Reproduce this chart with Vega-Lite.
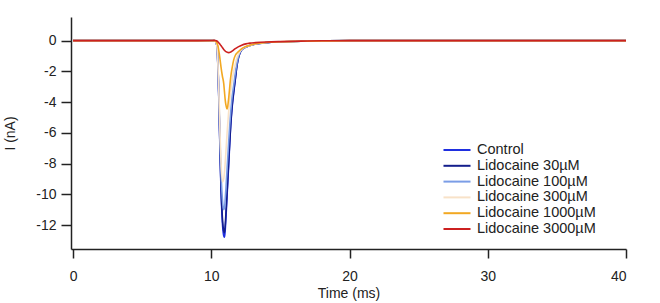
{
  "$schema": "https://vega.github.io/schema/vega-lite/v6.json",
  "width": 555,
  "height": 232,
  "autosize": {"type": "none"},
  "padding": {"left": 71, "top": 17, "right": 34, "bottom": 54},
  "background": "white",
  "config": {
    "view": {"stroke": null},
    "font": "Liberation Sans",
    "axis": {"domainColor": "#222", "tickColor": "#222", "labelColor": "#222", "titleColor": "#222", "labelFontSize": 14, "titleFontSize": 14, "titleFontWeight": "normal", "grid": false, "domainWidth": 1.5, "tickWidth": 1.5}
  },
  "data": {
    "values": [
      {"t": 0, "Control": 0, "Lidocaine 30µM": 0, "Lidocaine 100µM": 0, "Lidocaine 300µM": 0, "Lidocaine 1000µM": 0, "Lidocaine 3000µM": 0},
      {"t": 5, "Control": 0, "Lidocaine 30µM": 0, "Lidocaine 100µM": 0, "Lidocaine 300µM": 0, "Lidocaine 1000µM": 0, "Lidocaine 3000µM": 0},
      {"t": 9, "Control": 0, "Lidocaine 30µM": 0, "Lidocaine 100µM": 0, "Lidocaine 300µM": 0, "Lidocaine 1000µM": 0, "Lidocaine 3000µM": 0},
      {"t": 10, "Control": 0, "Lidocaine 30µM": 0, "Lidocaine 100µM": 0, "Lidocaine 300µM": 0, "Lidocaine 1000µM": 0, "Lidocaine 3000µM": 0.01},
      {"t": 10.2, "Control": 0, "Lidocaine 30µM": 0, "Lidocaine 100µM": 0, "Lidocaine 300µM": 0, "Lidocaine 1000µM": 0, "Lidocaine 3000µM": 0.02},
      {"t": 10.3, "Control": -0.05, "Lidocaine 30µM": -0.05, "Lidocaine 100µM": -0.05, "Lidocaine 300µM": -0.05, "Lidocaine 1000µM": -0.03, "Lidocaine 3000µM": 0.01},
      {"t": 10.4, "Control": -0.3, "Lidocaine 30µM": -0.3, "Lidocaine 100µM": -0.3, "Lidocaine 300µM": -0.3, "Lidocaine 1000µM": -0.15, "Lidocaine 3000µM": -0.02},
      {"t": 10.45, "Control": -1.0, "Lidocaine 30µM": -0.95, "Lidocaine 100µM": -0.9, "Lidocaine 300µM": -0.9, "Lidocaine 1000µM": -0.25, "Lidocaine 3000µM": -0.05},
      {"t": 10.5, "Control": -2.3, "Lidocaine 30µM": -2.2, "Lidocaine 100µM": -2.1, "Lidocaine 300µM": -2.0, "Lidocaine 1000µM": -0.4, "Lidocaine 3000µM": -0.1},
      {"t": 10.55, "Control": -4.0, "Lidocaine 30µM": -3.9, "Lidocaine 100µM": -3.6, "Lidocaine 300µM": -3.4, "Lidocaine 1000µM": -0.7, "Lidocaine 3000µM": -0.15},
      {"t": 10.6, "Control": -6.0, "Lidocaine 30µM": -5.9, "Lidocaine 100µM": -5.4, "Lidocaine 300µM": -5.0, "Lidocaine 1000µM": -1.0, "Lidocaine 3000µM": -0.2},
      {"t": 10.65, "Control": -8.0, "Lidocaine 30µM": -7.8, "Lidocaine 100µM": -7.1, "Lidocaine 300µM": -6.6, "Lidocaine 1000µM": -1.35, "Lidocaine 3000µM": -0.26},
      {"t": 10.7, "Control": -9.6, "Lidocaine 30µM": -9.4, "Lidocaine 100µM": -8.5, "Lidocaine 300µM": -7.8, "Lidocaine 1000µM": -1.7, "Lidocaine 3000µM": -0.32},
      {"t": 10.8, "Control": -11.8, "Lidocaine 30µM": -11.5, "Lidocaine 100µM": -10.3, "Lidocaine 300µM": -9.2, "Lidocaine 1000µM": -2.3, "Lidocaine 3000µM": -0.45},
      {"t": 10.9, "Control": -12.7, "Lidocaine 30µM": -12.4, "Lidocaine 100µM": -11.0, "Lidocaine 300µM": -9.0, "Lidocaine 1000µM": -2.8, "Lidocaine 3000µM": -0.57},
      {"t": 10.95, "Control": -12.8, "Lidocaine 30µM": -12.5, "Lidocaine 100µM": -10.9, "Lidocaine 300µM": -8.6, "Lidocaine 1000µM": -3.3, "Lidocaine 3000µM": -0.62},
      {"t": 11.0, "Control": -12.4, "Lidocaine 30µM": -12.1, "Lidocaine 100µM": -10.4, "Lidocaine 300µM": -8.0, "Lidocaine 1000µM": -3.8, "Lidocaine 3000µM": -0.67},
      {"t": 11.06, "Control": -11.5, "Lidocaine 30µM": -11.2, "Lidocaine 100µM": -9.6, "Lidocaine 300µM": -7.2, "Lidocaine 1000µM": -4.2, "Lidocaine 3000µM": -0.72},
      {"t": 11.15, "Control": -9.9, "Lidocaine 30µM": -9.7, "Lidocaine 100µM": -8.2, "Lidocaine 300µM": -5.9, "Lidocaine 1000µM": -4.45, "Lidocaine 3000µM": -0.76},
      {"t": 11.25, "Control": -8.2, "Lidocaine 30µM": -8.0, "Lidocaine 100µM": -6.7, "Lidocaine 300µM": -4.7, "Lidocaine 1000µM": -3.8, "Lidocaine 3000µM": -0.78},
      {"t": 11.4, "Control": -5.6, "Lidocaine 30µM": -5.5, "Lidocaine 100µM": -4.7, "Lidocaine 300µM": -3.3, "Lidocaine 1000µM": -2.4, "Lidocaine 3000µM": -0.74},
      {"t": 11.5, "Control": -4.4, "Lidocaine 30µM": -4.3, "Lidocaine 100µM": -3.7, "Lidocaine 300µM": -2.6, "Lidocaine 1000µM": -1.8, "Lidocaine 3000µM": -0.68},
      {"t": 11.62, "Control": -3.4, "Lidocaine 30µM": -3.3, "Lidocaine 100µM": -2.9, "Lidocaine 300µM": -2.0, "Lidocaine 1000µM": -1.25, "Lidocaine 3000µM": -0.6},
      {"t": 11.74, "Control": -2.5, "Lidocaine 30µM": -2.45, "Lidocaine 100µM": -2.1, "Lidocaine 300µM": -1.5, "Lidocaine 1000µM": -0.95, "Lidocaine 3000µM": -0.52},
      {"t": 11.86, "Control": -1.6, "Lidocaine 30µM": -1.6, "Lidocaine 100µM": -1.45, "Lidocaine 300µM": -1.1, "Lidocaine 1000µM": -0.8, "Lidocaine 3000µM": -0.45},
      {"t": 11.98, "Control": -1.05, "Lidocaine 30µM": -1.05, "Lidocaine 100µM": -0.98, "Lidocaine 300µM": -0.85, "Lidocaine 1000µM": -0.7, "Lidocaine 3000µM": -0.39},
      {"t": 12.2, "Control": -0.6, "Lidocaine 30µM": -0.6, "Lidocaine 100µM": -0.58, "Lidocaine 300µM": -0.55, "Lidocaine 1000µM": -0.52, "Lidocaine 3000µM": -0.3},
      {"t": 12.5, "Control": -0.42, "Lidocaine 30µM": -0.42, "Lidocaine 100µM": -0.41, "Lidocaine 300µM": -0.4, "Lidocaine 1000µM": -0.38, "Lidocaine 3000µM": -0.21},
      {"t": 12.8, "Control": -0.32, "Lidocaine 30µM": -0.32, "Lidocaine 100µM": -0.31, "Lidocaine 300µM": -0.31, "Lidocaine 1000µM": -0.3, "Lidocaine 3000µM": -0.16},
      {"t": 13.2, "Control": -0.22, "Lidocaine 30µM": -0.22, "Lidocaine 100µM": -0.22, "Lidocaine 300µM": -0.21, "Lidocaine 1000µM": -0.2, "Lidocaine 3000µM": -0.13},
      {"t": 14, "Control": -0.13, "Lidocaine 30µM": -0.13, "Lidocaine 100µM": -0.13, "Lidocaine 300µM": -0.12, "Lidocaine 1000µM": -0.12, "Lidocaine 3000µM": -0.09},
      {"t": 15, "Control": -0.08, "Lidocaine 30µM": -0.08, "Lidocaine 100µM": -0.08, "Lidocaine 300µM": -0.07, "Lidocaine 1000µM": -0.07, "Lidocaine 3000µM": -0.06},
      {"t": 16.5, "Control": -0.04, "Lidocaine 30µM": -0.04, "Lidocaine 100µM": -0.04, "Lidocaine 300µM": -0.04, "Lidocaine 1000µM": -0.04, "Lidocaine 3000µM": -0.03},
      {"t": 18, "Control": -0.02, "Lidocaine 30µM": -0.02, "Lidocaine 100µM": -0.02, "Lidocaine 300µM": -0.02, "Lidocaine 1000µM": -0.02, "Lidocaine 3000µM": -0.01},
      {"t": 20, "Control": 0, "Lidocaine 30µM": 0, "Lidocaine 100µM": 0, "Lidocaine 300µM": 0, "Lidocaine 1000µM": 0, "Lidocaine 3000µM": 0},
      {"t": 25, "Control": 0, "Lidocaine 30µM": 0, "Lidocaine 100µM": 0, "Lidocaine 300µM": 0, "Lidocaine 1000µM": 0, "Lidocaine 3000µM": 0},
      {"t": 30, "Control": 0, "Lidocaine 30µM": 0, "Lidocaine 100µM": 0, "Lidocaine 300µM": 0, "Lidocaine 1000µM": 0, "Lidocaine 3000µM": 0},
      {"t": 35, "Control": 0, "Lidocaine 30µM": 0, "Lidocaine 100µM": 0, "Lidocaine 300µM": 0, "Lidocaine 1000µM": 0, "Lidocaine 3000µM": 0},
      {"t": 40, "Control": 0, "Lidocaine 30µM": 0, "Lidocaine 100µM": 0, "Lidocaine 300µM": 0, "Lidocaine 1000µM": 0, "Lidocaine 3000µM": 0}
    ]
  },
  "transform": [
    {"fold": ["Control", "Lidocaine 30µM", "Lidocaine 100µM", "Lidocaine 300µM", "Lidocaine 1000µM", "Lidocaine 3000µM"], "as": ["series", "I"]}
  ],
  "mark": {"type": "line", "strokeWidth": 1.6, "interpolate": "monotone", "clip": true},
  "encoding": {
    "x": {
      "field": "t", "type": "quantitative",
      "scale": {"domain": [-0.15, 40], "nice": false, "zero": false},
      "axis": {"title": "Time (ms)", "values": [0, 10, 20, 30, 40], "tickSize": 9, "labelPadding": 11, "titlePadding": 3}
    },
    "y": {
      "field": "I", "type": "quantitative",
      "scale": {"domain": [-13.56, 1.54], "nice": false, "zero": false},
      "axis": {"title": "I (nA)", "values": [-12, -10, -8, -6, -4, -2, 0], "tickSize": 10, "labelPadding": 5, "titlePadding": 18, "labelExpr": "replace(datum.label, '−', '-')"}
    },
    "color": {
      "field": "series", "type": "nominal",
      "sort": ["Control", "Lidocaine 30µM", "Lidocaine 100µM", "Lidocaine 300µM", "Lidocaine 1000µM", "Lidocaine 3000µM"],
      "scale": {
        "domain": ["Control", "Lidocaine 30µM", "Lidocaine 100µM", "Lidocaine 300µM", "Lidocaine 1000µM", "Lidocaine 3000µM"],
        "range": ["#1f2fe0", "#141e8c", "#7b9de6", "#f8e2c8", "#f2a822", "#cc2020"]
      },
      "legend": {
        "title": null, "orient": "none", "legendX": 378, "legendY": 125,
        "symbolType": "M-1.93,0L1.93,0", "symbolSize": 196, "symbolStrokeWidth": 2,
        "labelFontSize": 14.5, "labelColor": "#222", "labelOffset": 12, "rowPadding": 0.8
      }
    },
    "order": {"field": "series"}
  }
}
